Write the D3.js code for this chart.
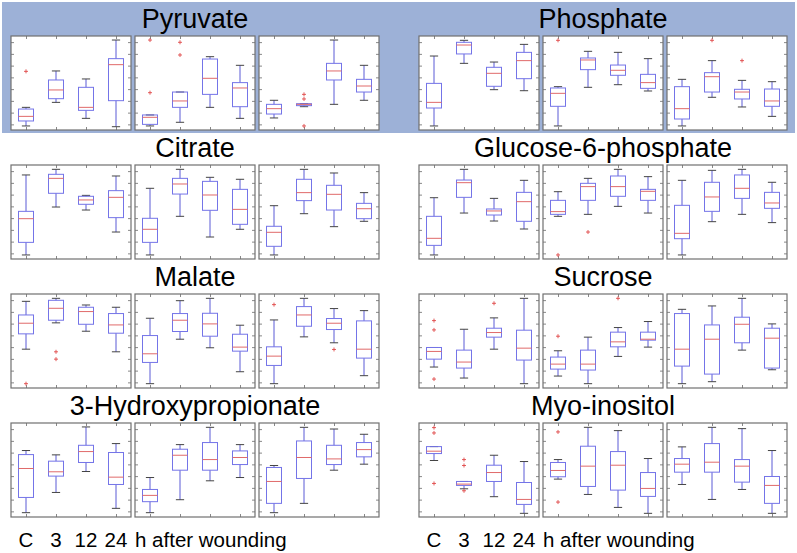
<!DOCTYPE html>
<html>
<head>
<meta charset="utf-8">
<script src="https://cdn.jsdelivr.net/npm/d3@7"></script>
<style>
body { margin: 0; background: #fff; }
text { font-family: "Liberation Sans", Arial, sans-serif; fill: #000; }
</style>
</head>
<body>
<script>
// metabolites, left column then right column, row by row
const metabolites = ["Pyruvate", "Phosphate", "Citrate", "Glucose-6-phosphate",
    "Malate", "Sucrose", "3-Hydroxypropionate", "Myo-inositol"];
const timeLabels = ["C", "3", "12", "24"];

// each box: [lower whisker, q1, median, q3, upper whisker]; 3 panels x 4 time points
const pyruvateStats = [
    [[4.3, 9.6, 14.5, 22.3, 24.1], [29.4, 33.3, 42.6, 53.2, 62.8], [12.4, 20.9, 24.1, 45.4, 54.3], [3.5, 31.2, 69.5, 75.9, 95.7]],
    [[4.3, 6.0, 13.5, 16.0, 16.0], [8.2, 24.1, 30.9, 40.4, 40.4], [24.1, 37.9, 55.0, 75.5, 78.0], [12.4, 24.8, 44.7, 50.4, 68.8]],
    [[12.8, 17.0, 22.7, 27.3, 31.6], [24.8, 25.9, 27.3, 28.0, 28.0], [27.3, 53.2, 62.8, 70.9, 95.7], [31.6, 40.4, 46.8, 53.9, 68.8]]
];
const pyruvateOutliers = [[[62.4], [], [], []], [[95.7, 39.7], [93.3, 79.8], [], []], [[], [37.9, 33.0, 4.3], [], []]];

const phosphateStats = [
    [[4.3, 23.4, 29.4, 49.6, 78.7], [70.9, 80.9, 90.4, 93.3, 95.4], [42.9, 46.5, 60.3, 66.7, 72.3], [41.8, 54.6, 73.8, 82.6, 91.1]],
    [[4.3, 25.2, 39.0, 44.7, 46.1], [45.4, 64.2, 74.5, 76.6, 83.7], [48.2, 58.2, 63.5, 69.1, 82.6], [41.5, 44.3, 50.4, 59.2, 75.9]],
    [[4.3, 11.7, 22.7, 46.1, 53.9], [34.8, 40.4, 56.7, 61.0, 73.8], [24.5, 33.0, 40.4, 43.3, 52.8], [14.5, 25.2, 30.9, 43.6, 51.4]]
];
const phosphateOutliers = [[[], [], [], []], [[95.4], [], [], []], [[], [95.4], [73.8], []]];

const citrateStats = [
    [[4.3, 17.7, 42.9, 50.7, 89.4], [55.3, 69.9, 85.8, 90.1, 95.4], [52.1, 58.2, 62.8, 66.7, 67.7], [28.7, 44.0, 65.6, 72.7, 88.3]],
    [[4.3, 17.7, 31.6, 43.3, 75.2], [45.4, 69.1, 79.8, 85.8, 95.4], [23.4, 51.8, 68.1, 82.6, 86.9], [31.6, 36.9, 52.8, 74.1, 84.8]],
    [[4.3, 13.5, 28.4, 34.8, 56.7], [48.2, 62.1, 70.6, 84.8, 95.4], [34.4, 52.1, 68.8, 78.4, 91.5], [40.1, 42.9, 53.5, 59.2, 70.6]]
];
const citrateOutliers = [[[], [], [], []], [[], [], [], []], [[], [], [], []]];

const g6pStats = [
    [[4.3, 14.5, 22.0, 45.4, 65.2], [48.9, 65.6, 81.2, 84.0, 95.4], [40.4, 46.8, 51.1, 53.2, 64.5], [31.9, 40.1, 61.0, 70.9, 83.7]],
    [[45.4, 47.5, 50.4, 62.4, 71.6], [47.5, 62.4, 77.0, 80.5, 85.8], [56.0, 66.7, 77.0, 88.3, 95.4], [48.9, 62.4, 72.0, 74.1, 87.6]],
    [[4.3, 21.6, 27.3, 57.1, 83.7], [39.7, 50.7, 66.0, 81.6, 94.3], [47.5, 64.5, 75.2, 89.4, 95.4], [38.7, 53.9, 59.6, 70.9, 81.6]]
];
const g6pOutliers = [[[], [], [], []], [[4.3], [28.7], [], []], [[], [], [], []]];

const malateStats = [
    [[41.3, 57.6, 68.9, 77.7, 92.2], [69.3, 72.1, 84.8, 93.3, 95.4], [60.4, 67.8, 81.3, 85.9, 88.3], [38.5, 58.3, 67.1, 79.2, 85.9]],
    [[4.6, 27.2, 36.4, 55.8, 74.2], [51.9, 60.1, 72.1, 79.2, 92.9], [42.8, 55.1, 68.2, 79.5, 95.4], [17.3, 39.2, 43.5, 57.2, 66.8]],
    [[4.6, 24.0, 33.9, 43.8, 72.4], [54.4, 65.7, 77.7, 86.6, 95.4], [48.1, 62.2, 68.9, 73.9, 84.5], [13.1, 31.8, 41.3, 71.4, 82.3]]
];
const malateOutliers = [[[4.6], [38.5, 30.7], [], []], [[], [], [], []], [[88.7], [], [41.0], []]];

const sucroseStats = [
    [[22.3, 30.7, 38.9, 43.1, 43.1], [10.6, 21.2, 27.6, 40.3, 62.5], [41.3, 54.1, 59.0, 63.6, 74.6], [4.6, 29.7, 42.4, 61.5, 95.4]],
    [[12.7, 20.1, 25.4, 32.9, 39.6], [4.6, 19.1, 25.4, 40.3, 54.1], [33.6, 43.8, 49.1, 59.4, 64.3], [43.5, 50.9, 51.9, 59.4, 70.7]],
    [[4.6, 23.3, 41.3, 79.2, 83.7], [6.7, 14.8, 51.9, 67.1, 87.3], [40.3, 48.1, 67.8, 75.3, 95.4], [19.4, 21.2, 53.0, 63.6, 68.2]]
];
const sucroseOutliers = [[[71.7, 61.8, 9.5], [], [90.1], []], [[55.1], [], [95.4], []], [[], [], [], []]];

const hydroxyStats = [
    [[4.6, 20.8, 51.6, 66.4, 70.7], [26.1, 43.5, 48.1, 59.4, 66.1], [48.4, 58.0, 69.6, 76.3, 95.8], [9.2, 34.6, 42.4, 68.6, 78.1]],
    [[4.6, 16.3, 23.0, 29.3, 42.0], [18.4, 49.8, 65.7, 72.1, 77.0], [38.5, 49.8, 61.1, 79.2, 95.4], [42.0, 55.8, 63.3, 70.3, 77.0]],
    [[4.6, 14.5, 37.8, 52.7, 54.8], [14.5, 41.0, 63.3, 80.9, 95.4], [49.8, 55.8, 61.8, 76.3, 93.6], [56.2, 64.0, 71.7, 79.2, 88.0]]
];
const hydroxyOutliers = [[[], [], [], []], [[], [], [], []], [[], [], [], []]];

const inositolStats = [
    [[60.1, 67.5, 70.0, 74.9, 74.9], [30.0, 33.6, 35.0, 37.8, 37.8], [21.6, 37.8, 47.3, 55.1, 65.7], [3.9, 13.4, 18.7, 36.7, 59.0]],
    [[40.3, 42.8, 49.5, 58.0, 61.1], [24.0, 32.5, 54.1, 75.3, 95.4], [10.2, 28.6, 55.1, 69.6, 91.9], [3.9, 21.9, 30.4, 47.3, 62.2]],
    [[34.6, 47.7, 56.2, 62.2, 74.6], [18.7, 47.7, 58.3, 78.1, 95.4], [29.3, 37.1, 54.1, 61.1, 94.0], [3.9, 14.5, 33.6, 43.1, 70.7]]
];
const inositolOutliers = [[[95.1, 89.4, 35.7], [61.1, 54.8, 27.9], [], []], [[90.5, 15.9], [], [], []], [[], [], [], []]];

const allStats = [pyruvateStats, phosphateStats, citrateStats, g6pStats,
    malateStats, sucroseStats, hydroxyStats, inositolStats];
const allOutliers = [pyruvateOutliers, phosphateOutliers, citrateOutliers, g6pOutliers,
    malateOutliers, sucroseOutliers, hydroxyOutliers, inositolOutliers];

const width = 797, height = 553;
const colLeft = [11, 419];
const rowTop = [36, 165, 294, 423];
const panelW = 120, panelH = 94, panelStep = 124;

const svg = d3.select("body").append("svg")
    .attr("width", width)
    .attr("height", height);

// highlighted first row
svg.append("rect")
    .attr("x", 2).attr("y", 2)
    .attr("width", 793).attr("height", 131)
    .attr("fill", "#9db1d7");

const x = d3.scalePoint().domain(timeLabels).range([0, panelW]).padding(0.5);
const y = d3.scaleLinear().domain([0, 100]).range([panelH, 0]);
const boxW = x.step() / 2;
const capW = boxW * 0.55;

metabolites.forEach(function (name, m) {
    let col = m % 2;
    let row = Math.floor(m / 2);
    let top = rowTop[row];

    svg.append("text")
        .attr("x", colLeft[col] + (panelW * 3 + (panelStep - panelW) * 2) / 2)
        .attr("y", top - 8)
        .attr("text-anchor", "middle")
        .attr("font-size", 27)
        .text(name);

    for (let p = 0; p < 3; p++) {
        drawPanel(colLeft[col] + p * panelStep, top, allStats[m][p], allOutliers[m][p]);
    }
});

function drawPanel(left, top, stats, outliers) {
    let g = svg.append("g").attr("transform", "translate(" + left + "," + top + ")");

    g.append("rect")
        .attr("width", panelW).attr("height", panelH)
        .attr("fill", "#fff");

    // inward ticks on all four sides
    let yt = d3.range(6, 100, 12.5);
    g.append("g").call(d3.axisLeft(y).tickValues(yt).tickSizeInner(-3).tickSizeOuter(0).tickFormat(""));
    g.append("g").attr("transform", "translate(" + panelW + ",0)")
        .call(d3.axisRight(y).tickValues(yt).tickSizeInner(-3).tickSizeOuter(0).tickFormat(""));
    g.append("g").attr("transform", "translate(0," + panelH + ")")
        .call(d3.axisBottom(x).tickSizeInner(-3).tickSizeOuter(0).tickFormat(""));
    g.append("g").call(d3.axisTop(x).tickSizeInner(-3).tickSizeOuter(0).tickFormat(""));
    g.selectAll(".domain").remove();
    g.selectAll(".tick line").attr("stroke", "#888");

    g.append("rect")
        .attr("width", panelW).attr("height", panelH)
        .attr("fill", "none")
        .attr("stroke", "#707070")
        .attr("stroke-width", 1.2);

    let boxes = g.selectAll(".box")
        .data(stats)
        .enter()
        .append("g")
        .attr("class", "box")
        .attr("transform", function (d, i) { return "translate(" + x(timeLabels[i]) + ",0)"; });

    // whiskers
    boxes.append("line")
        .attr("y1", function (d) { return y(d[0]); })
        .attr("y2", function (d) { return y(d[1]); })
        .attr("stroke", "#5b5bd6");
    boxes.append("line")
        .attr("y1", function (d) { return y(d[3]); })
        .attr("y2", function (d) { return y(d[4]); })
        .attr("stroke", "#5b5bd6");

    // caps
    [0, 4].forEach(function (k) {
        boxes.append("line")
            .attr("x1", -capW / 2).attr("x2", capW / 2)
            .attr("y1", function (d) { return y(d[k]); })
            .attr("y2", function (d) { return y(d[k]); })
            .attr("stroke", "#444");
    });

    boxes.append("rect")
        .attr("x", -boxW / 2)
        .attr("width", boxW)
        .attr("y", function (d) { return y(d[3]); })
        .attr("height", function (d) { return Math.max(1, y(d[1]) - y(d[3])); })
        .attr("fill", "none")
        .attr("stroke", "#7474e8");

    boxes.append("line")
        .attr("x1", -boxW / 2).attr("x2", boxW / 2)
        .attr("y1", function (d) { return y(d[2]); })
        .attr("y2", function (d) { return y(d[2]); })
        .attr("stroke", "#e06a6a");

    // outliers as red crosses
    outliers.forEach(function (vals, i) {
        g.selectAll(null)
            .data(vals)
            .enter()
            .append("path")
            .attr("d", function (v) {
                let cx = x(timeLabels[i]), cy = y(v);
                return "M" + (cx - 2) + "," + cy + "H" + (cx + 2) + "M" + cx + "," + (cy - 2) + "V" + (cy + 2);
            })
            .attr("stroke", "#e04848")
            .attr("stroke-width", 0.9);
    });
}

// time axis labels under the last row
colLeft.forEach(function (left) {
    svg.selectAll(null)
        .data(timeLabels)
        .enter()
        .append("text")
        .attr("x", function (d) { return left + x(d); })
        .attr("y", 547)
        .attr("text-anchor", "middle")
        .attr("font-size", 20.5)
        .text(function (d) { return d; });

    svg.append("text")
        .attr("x", left + panelStep)
        .attr("y", 547)
        .attr("font-size", 20.5)
        .text("h after wounding");
});
</script>
</body>
</html>
